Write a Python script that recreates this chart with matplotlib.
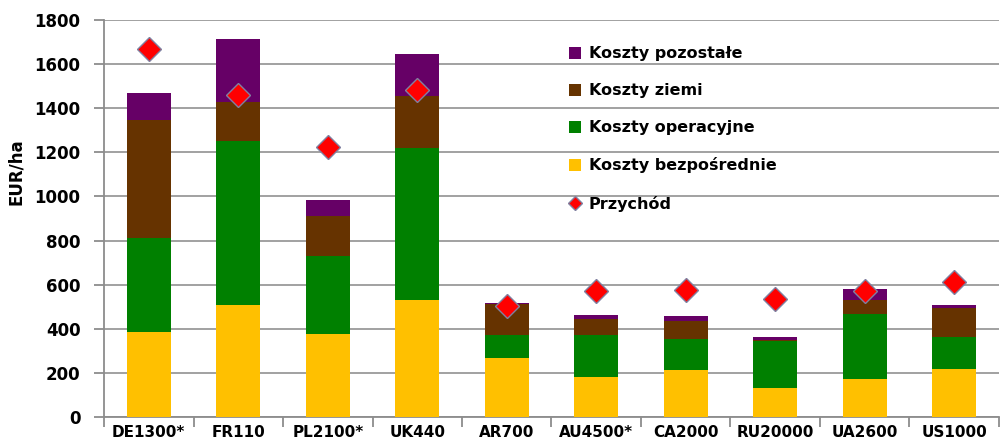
import matplotlib
matplotlib.use("Agg")
import matplotlib.pyplot as plt
import numpy as np

# Dane (EUR/ha)
kraje = ["DE1300*", "FR110", "PL2100*", "UK440", "AR700", "AU4500*",
         "CA2000", "RU20000", "UA2600", "US1000"]
koszty_bezposrednie = [385, 510, 378, 529, 269, 181, 212, 132, 174, 219]
koszty_operacyjne = [427, 743, 354, 690, 102, 190, 144, 213, 292, 144]
koszty_ziemi = [537, 174, 179, 237, 142, 72, 79, 6, 63, 133]
koszty_pozostale = [122, 289, 75, 189, 3, 21, 23, 12, 51, 14]
przychod = [1671, 1459, 1223, 1482, 505, 570, 578, 534, 571, 612]

plt.rcParams['font.family'] = ['DejaVu Sans']
plt.rcParams['font.weight'] = 'bold'

fig = plt.figure(figsize=(10.04, 4.47), dpi=100)
ax = fig.add_axes([0.1036, 0.0671, 0.8914, 0.888])

x = np.arange(len(kraje))
w = 0.49
b1 = np.array(koszty_bezposrednie)
b2 = b1 + np.array(koszty_operacyjne)
b3 = b2 + np.array(koszty_ziemi)

p1 = ax.bar(x, koszty_bezposrednie, w, color='#FFC000', zorder=3)
p2 = ax.bar(x, koszty_operacyjne, w, bottom=b1, color='#008000', zorder=3)
p3 = ax.bar(x, koszty_ziemi, w, bottom=b2, color='#663300', zorder=3)
p4 = ax.bar(x, koszty_pozostale, w, bottom=b3, color='#660066', zorder=3)
ln, = ax.plot(x, przychod, linestyle='none', marker='D', markersize=12,
              markerfacecolor='#FF0000', markeredgecolor='#8080a0',
              markeredgewidth=1, zorder=4)

ax.set_xlim(-0.5, 9.5)
ax.set_ylim(0, 1800)
ax.set_yticks(np.arange(0, 1801, 200))
ax.yaxis.grid(True, color='#9a9a9a', linewidth=1.3, zorder=0)
ax.set_axisbelow(True)

ax.set_xticks(np.arange(-0.5, 10, 1))
ax.set_xticklabels([])
ax.set_xticks(x, minor=True)
ax.set_xticklabels(kraje, minor=True, fontsize=11, fontweight='bold')
ax.tick_params(axis='x', which='minor', length=0, pad=6)
ax.tick_params(axis='x', which='major', length=7, color='#8c8c8c', width=1.3)
ax.tick_params(axis='y', length=7, color='#8c8c8c', width=1.3, labelsize=12, pad=10)
for lab in ax.get_yticklabels():
    lab.set_fontweight('bold')

for s in ['top', 'right']:
    ax.spines[s].set_visible(False)
for s in ['left', 'bottom']:
    ax.spines[s].set_color('#8c8c8c')
    ax.spines[s].set_linewidth(1.3)

ax.set_ylabel('EUR/ha', fontsize=12, fontweight='bold')
ax.yaxis.set_label_coords(-0.088, 0.617)

leg = ax.legend([p4, p3, p2, p1, ln],
                ['Koszty pozostałe', 'Koszty ziemi', 'Koszty operacyjne',
                 'Koszty bezpośrednie', 'Przychód'],
                loc='upper left', bbox_to_anchor=(0.503, 0.97), frameon=False,
                fontsize=11.5, labelspacing=1.38, handlelength=0.8,
                handleheight=0.8, handletextpad=0.45, markerscale=0.6)
for t in leg.get_texts():
    t.set_fontweight('bold')

fig.savefig('out.png', dpi=100)
